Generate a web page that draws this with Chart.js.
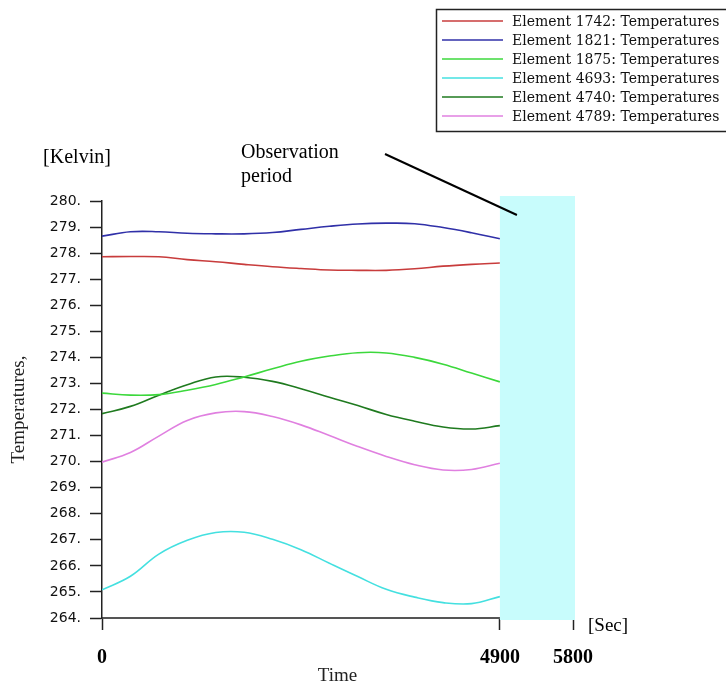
<!DOCTYPE html>
<html>
<head>
<meta charset="utf-8">
<script src="https://cdn.jsdelivr.net/npm/chart.js@4"></script>
<style>
  html, body { margin: 0; padding: 0; background: #ffffff; }
  #wrap { width: 726px; height: 686px; position: relative; }
</style>
</head>
<body>
<div id="wrap"><canvas id="chart" width="726" height="686"></canvas></div>
<script>
// Sample times in seconds
const times = [0, 350, 700, 1050, 1400, 1750, 2100, 2450, 2800, 3150, 3500, 3850, 4200, 4550, 4900];

// Temperatures in Kelvin per element
const temp1742 = [277.86, 277.87, 277.86, 277.75, 277.67, 277.57, 277.48, 277.41, 277.35, 277.34, 277.34, 277.40, 277.50, 277.57, 277.62];
const temp1821 = [278.65, 278.82, 278.82, 278.76, 278.74, 278.74, 278.79, 278.91, 279.03, 279.12, 279.15, 279.13, 278.98, 278.78, 278.55];
const temp1875 = [272.63, 272.55, 272.57, 272.74, 272.96, 273.25, 273.56, 273.85, 274.05, 274.18, 274.17, 274.00, 273.74, 273.40, 273.06];
const temp4693 = [265.08, 265.60, 266.45, 266.98, 267.28, 267.29, 267.02, 266.62, 266.10, 265.59, 265.10, 264.80, 264.59, 264.55, 264.82];
const temp4740 = [271.84, 272.12, 272.55, 272.95, 273.25, 273.24, 273.08, 272.80, 272.47, 272.15, 271.81, 271.55, 271.33, 271.25, 271.38];
const temp4789 = [269.98, 270.35, 270.98, 271.58, 271.87, 271.92, 271.73, 271.41, 271.00, 270.58, 270.20, 269.88, 269.68, 269.70, 269.94];

const seriesLabels = [
  'Element 1742: Temperatures',
  'Element 1821: Temperatures',
  'Element 1875: Temperatures',
  'Element 4693: Temperatures',
  'Element 4740: Temperatures',
  'Element 4789: Temperatures'
];

// Axis ticks and ranges
const xTickValues = [0, 4900, 5800];
const xRange = [0, 5800];
const yRange = [264, 280];
const observationPeriod = [4900, 5800];

const seriesColors = ['#c83c3c', '#3030a8', '#3cd83c', '#44e0e0', '#1f7a1f', '#e080e0'];
const seriesValues = [temp1742, temp1821, temp1875, temp4693, temp4740, temp4789];

const datasets = seriesValues.map((vals, i) => ({
  label: seriesLabels[i],
  data: times.map((t, j) => ({ x: t, y: vals[j] })),
  borderColor: seriesColors[i],
  backgroundColor: seriesColors[i],
  borderWidth: 1.6,
  pointRadius: 0,
  fill: false,
  tension: 0.4
}));

const SERIF = '"Liberation Serif", "Times New Roman", serif';

// Shaded observation window, drawn over the axis line
const observationBand = {
  id: 'observationBand',
  afterDatasetsDraw(chart) {
    const { ctx, scales: { x, y } } = chart;
    const x0 = x.getPixelForValue(observationPeriod[0]);
    const x1 = x.getPixelForValue(observationPeriod[1]);
    const yTop = y.getPixelForValue(yRange[1]) - 5;
    const yBot = y.getPixelForValue(yRange[0]) + 2;
    ctx.save();
    ctx.fillStyle = '#c8fcfc';
    ctx.fillRect(x0, yTop, x1 - x0 + 2, yBot - yTop);
    ctx.restore();
  }
};

// Units, annotation and boxed legend
const decorations = {
  id: 'decorations',
  afterDraw(chart) {
    const { ctx, chartArea, scales: { x, y } } = chart;
    ctx.save();
    ctx.fillStyle = '#000';
    ctx.textBaseline = 'middle';

    ctx.font = '20px ' + SERIF;
    ctx.textAlign = 'center';
    ctx.fillText('[Kelvin]', 77, chartArea.top - 43);

    ctx.font = '19px ' + SERIF;
    ctx.textAlign = 'left';
    ctx.fillText('[Sec]', chartArea.right + 15, chartArea.bottom + 8);

    ctx.font = '20px ' + SERIF;
    ctx.textBaseline = 'alphabetic';
    ctx.fillText('Observation', 241, 157.5);
    ctx.fillText('period', 241, 181.5);

    const bandX = x.getPixelForValue(observationPeriod[0]);
    const bandTop = y.getPixelForValue(yRange[1]);
    ctx.strokeStyle = '#000';
    ctx.lineWidth = 2;
    ctx.beginPath();
    ctx.moveTo(385, 154);
    ctx.lineTo(bandX + 17, bandTop + 14);
    ctx.stroke();

    // legend box
    const lx = 436, ly = 9, lw = 300, lh = 122;
    ctx.lineWidth = 1.5;
    ctx.strokeStyle = '#222';
    ctx.strokeRect(lx + 0.5, ly + 0.5, lw, lh);
    ctx.font = '14px "DejaVu Serif", serif';
    ctx.textBaseline = 'middle';
    ctx.textAlign = 'left';
    chart.data.datasets.forEach((ds, i) => {
      const rowY = 21 + i * 19;
      ctx.strokeStyle = ds.borderColor;
      ctx.lineWidth = 1.5;
      ctx.beginPath();
      ctx.moveTo(442, rowY);
      ctx.lineTo(503, rowY);
      ctx.stroke();
      ctx.fillStyle = '#111';
      ctx.fillText(ds.label, 512, rowY + 1);
    });
    ctx.restore();
  }
};

new Chart(document.getElementById('chart'), {
  type: 'line',
  data: { datasets },
  plugins: [observationBand, decorations],
  options: {
    responsive: false,
    devicePixelRatio: 1,
    animation: false,
    layout: { padding: { top: 201, right: 153, left: 0, bottom: 0 } },
    plugins: { legend: { display: false }, tooltip: { enabled: false } },
    scales: {
      x: {
        type: 'linear',
        min: xRange[0],
        max: xRange[1],
        afterBuildTicks(scale) { scale.ticks = xTickValues.map(v => ({ value: v })); },
        afterFit(scale) { scale.height = 68; },
        grid: { drawOnChartArea: false, drawTicks: true, tickLength: 12, tickColor: '#222', tickWidth: 1.5 },
        border: { display: true, color: '#555', width: 2 },
        ticks: {
          autoSkip: false, maxRotation: 0, padding: 16, color: '#000',
          font: { family: SERIF, size: 20, weight: 'bold', lineHeight: 1.2 },
          callback: v => String(v)
        },
        title: {
          display: true, text: 'Time', color: '#222',
          font: { family: SERIF, size: 19, lineHeight: 1 },
          padding: { top: 0, bottom: 0 }
        }
      },
      y: {
        min: yRange[0],
        max: yRange[1],
        afterFit(scale) { scale.width = 102; },
        grid: { drawOnChartArea: false, drawTicks: true, tickLength: 12, tickColor: '#222', tickWidth: 1.5 },
        border: { display: true, color: '#222', width: 1.5 },
        ticks: {
          stepSize: 1, padding: 9, color: '#111',
          font: { family: '"DejaVu Sans", Verdana, sans-serif', size: 14 },
          callback: v => v + '.'
        },
        title: {
          display: true, text: 'Temperatures,', color: '#222',
          font: { family: SERIF, size: 19, lineHeight: 1 },
          padding: { top: 10, bottom: 0 }
        }
      }
    }
  }
});
</script>
</body>
</html>
